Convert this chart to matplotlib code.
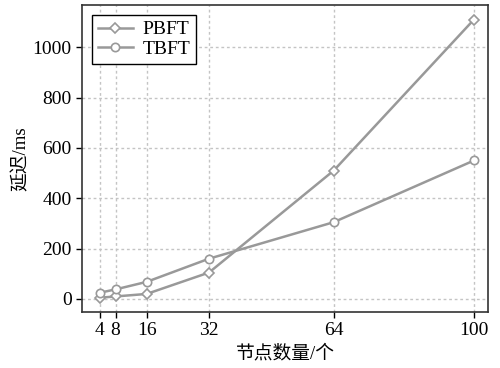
import matplotlib
matplotlib.use("Agg")
import matplotlib.pyplot as plt

plt.rcParams['font.family'] = ['Liberation Serif', 'Noto Sans CJK SC']

nodes = [4, 8, 16, 32, 64, 100]
pbft = [5, 10, 20, 105, 510, 1110]
tbft = [25, 38, 68, 160, 305, 550]

fig = plt.figure(figsize=(5, 3.68), dpi=100)
ax = fig.add_axes([0.164, 0.152, 0.812, 0.834])

line_color = '#999999'
ax.plot(nodes, pbft, '-', color=line_color, lw=1.8, marker='D', ms=5.5,
        mfc='white', mec=line_color, mew=1.2, label='PBFT')
ax.plot(nodes, tbft, '-', color=line_color, lw=1.8, marker='o', ms=6,
        mfc='white', mec=line_color, mew=1.2, label='TBFT')

ax.set_xlim(-0.6, 103.6)
ax.set_ylim(-52, 1167)
ax.set_xticks(nodes)
ax.set_yticks([0, 200, 400, 600, 800, 1000])
ax.tick_params(labelsize=14, direction='out', length=4, width=1)
ax.grid(True, ls=(0, (2, 2)), color='#c4c4c4', lw=1)
for s in ax.spines.values():
    s.set_linewidth(1.2)
    s.set_color('#333333')

ax.set_xlabel('节点数量/个', fontsize=13.5)
ax.set_ylabel('延迟/ms', fontsize=13.5, labelpad=2)

leg = ax.legend(loc='upper left', fontsize=14, fancybox=False, framealpha=1,
                edgecolor='black', handlelength=1.8, borderpad=0.3,
                labelspacing=0.1, handletextpad=0.5)
leg.get_frame().set_linewidth(1.0)

fig.savefig('out.png', dpi=100)
